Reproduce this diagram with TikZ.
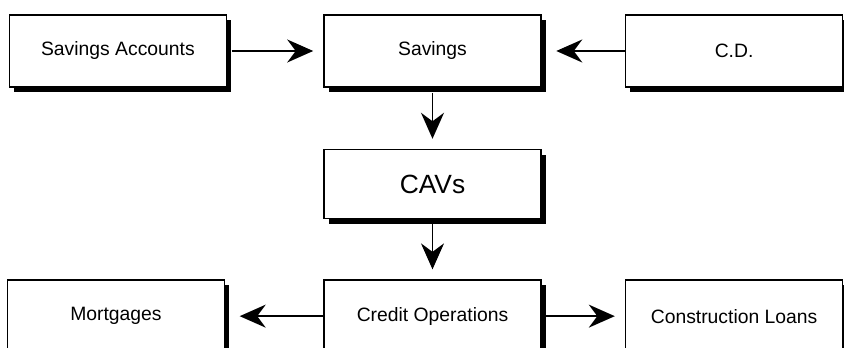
\documentclass[tikz,border=0pt]{standalone}
\usepackage{fontspec}
\setmainfont{Liberation Sans}
\usepackage{tikz}
\usetikzlibrary{positioning, shadows, arrows.meta}
\tikzstyle{block} = [rectangle, minimum width=4.34cm, minimum height=1.44cm, text centered, draw=black, line width=0.9pt, fill=white, font=\fontsize{11}{13}\selectfont, drop shadow={shadow xshift=0.09cm, shadow yshift=-0.1cm, fill=black, opacity=1}]
\tikzstyle{bigblock} = [block, minimum height=1.38cm, font=\fontsize{15}{18}\selectfont]
\tikzstyle{arrow} = [line width=0.9pt, -{Stealth[length=0.52cm, width=0.46cm, inset=0.17cm]}, shorten >=0.2cm]

\begin{document}
\begin{tikzpicture}
            \path[use as bounding box, clip] (0,0) rectangle (16.88,6.96);
            \node (savings) [block] at (8.65,5.94) {Savings};
            \node (accounts) [block, left=1.92cm of savings] {Savings Accounts};
            \node (cd) [block, right=1.66cm of savings] {C.D.};
            \node (cavs) [bigblock, below=1.22cm of savings] {CAVs};
            \node (credit) [block, below=1.2cm of cavs] {Credit Operations};
            \node (mortgages) [block, left=1.96cm of credit] {Mortgages};
            \node (construction) [block, right=1.66cm of credit] {Construction Loans};

            \draw [arrow] ([xshift=0.09cm]accounts.east) -- (savings);
            \draw [arrow] (cd) -- ([xshift=0.09cm]savings.east);
            \draw [arrow] ([yshift=-0.1cm]savings.south) -- (cavs);
            \draw [arrow] ([yshift=-0.1cm]cavs.south) -- (credit);
            \draw [arrow] (credit) -- ([xshift=0.09cm]mortgages.east);
            \draw [arrow] ([xshift=0.09cm]credit.east) -- (construction);
        \end{tikzpicture}
\end{document}
